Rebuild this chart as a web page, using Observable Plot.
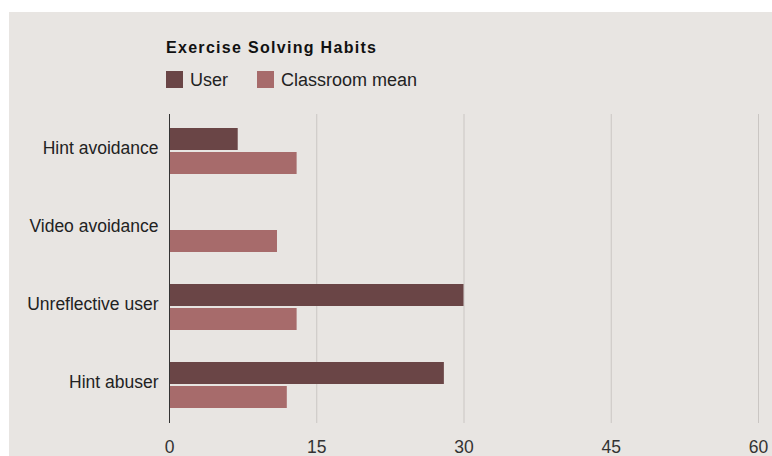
<!DOCTYPE html>
<html>
<head>
<meta charset="utf-8">
<script src="https://cdn.jsdelivr.net/npm/d3@7"></script>
<script src="https://cdn.jsdelivr.net/npm/@observablehq/plot@0.6"></script>
<style>
  html, body { margin: 0; padding: 0; background: #ffffff; }
  #wrap { position: absolute; left: 9px; top: 12px; width: 763px; height: 444px; background: #e8e5e2;
          font-family: "Liberation Sans", Arial, sans-serif; overflow: hidden; color: #222; }
  #title { position: absolute; left: 157px; top: 28px; font-size: 16px; line-height: 16px; font-weight: bold; color: #111; letter-spacing: 1.3px; }
  #legend { position: absolute; left: 157px; top: 59px; display: flex; align-items: flex-start; font-size: 18px; line-height: 18px; color: #222; }
  .item { display: flex; align-items: flex-start; margin-right: 29px; }
  .sw { width: 17px; height: 17px; margin-right: 7px; }
  #chart { position: absolute; left: 0; top: 88px; }
</style>
</head>
<body>
<div id="wrap">
  <div id="title"></div>
  <div id="legend"></div>
  <div id="chart"></div>
</div>
<script>
const titleText = "Exercise Solving Habits";
const categories = ["Hint avoidance", "Video avoidance", "Unreflective user", "Hint abuser"];
const seriesNames = ["User", "Classroom mean"];
const userValues = [7, 0, 30, 28];
const classroomValues = [13, 11, 13, 12];
const xTicks = [0, 15, 30, 45, 60];
const seriesColors = ["#6a4546", "#a76b6b"];

document.getElementById("title").textContent = titleText;
const legend = document.getElementById("legend");
seriesNames.forEach((name, i) => {
  const item = document.createElement("div");
  item.className = "item";
  const sw = document.createElement("div");
  sw.className = "sw";
  sw.style.background = seriesColors[i];
  const label = document.createElement("span");
  label.textContent = name;
  item.appendChild(sw);
  item.appendChild(label);
  legend.appendChild(item);
});

const userData = categories.map((c, i) => ({category: c, value: userValues[i]}));
const classData = categories.map((c, i) => ({category: c, value: classroomValues[i]}));

const chart = Plot.plot({
  width: 763,
  height: 356,
  marginTop: 14,
  marginBottom: 33,
  marginLeft: 160,
  marginRight: 14,
  style: {background: "transparent", fontSize: "17.5px", fontFamily: "'Liberation Sans', Arial, sans-serif", color: "#222"},
  x: {domain: [xTicks[0], xTicks[xTicks.length - 1]]},
  y: {domain: categories, paddingInner: 0.41, paddingOuter: 0.17},
  marks: [
    Plot.gridX(xTicks.slice(1), {stroke: "#cac6c3", strokeOpacity: 1}),
    Plot.barX(userData, {x: "value", y: "category", fill: seriesColors[0], insetBottom: 24}),
    Plot.barX(classData, {x: "value", y: "category", fill: seriesColors[1], insetTop: 24}),
    Plot.ruleX([0], {stroke: "#333"}),
    Plot.axisX({ticks: xTicks, tickSize: 0, tickPadding: 17, label: null, fill: "#333"}),
    Plot.axisY({tickSize: 0, tickPadding: 11, dy: -3, label: null, fill: "#222"})
  ]
});
document.getElementById("chart").appendChild(chart);
</script>
</body>
</html>
